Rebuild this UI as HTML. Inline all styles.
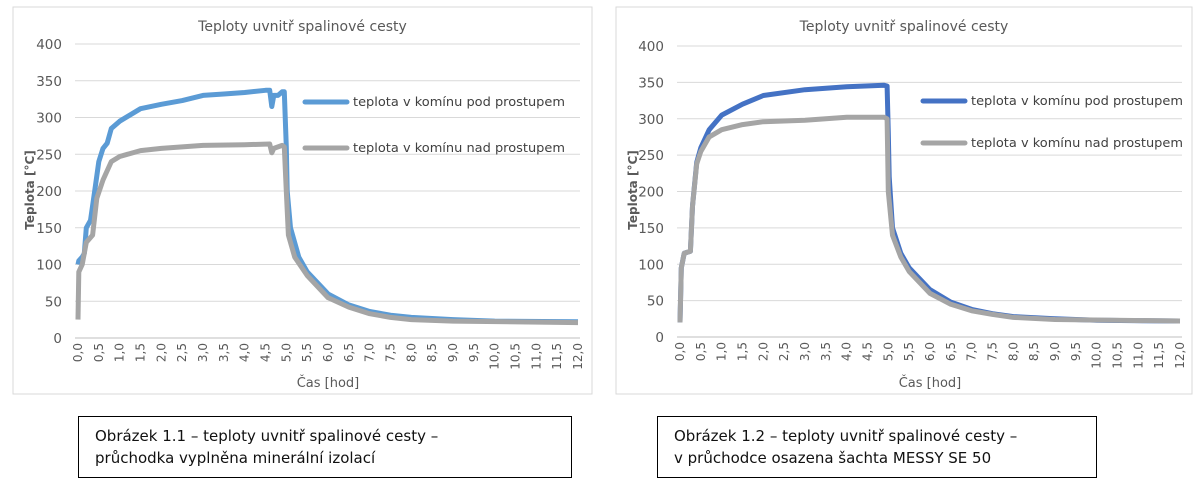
<!DOCTYPE html>
<html><head><meta charset="utf-8">
<style>
body{margin:0;background:#fff;width:1200px;height:485px;overflow:hidden;position:relative;font-family:"DejaVu Sans","Liberation Sans",sans-serif;}
.cap{position:absolute;border:1.5px solid #000;background:#fff;font-size:15px;line-height:22px;padding:8px 0 0 16px;box-sizing:border-box;color:#111;}
svg{position:absolute;left:0;top:0}
</style></head><body>
<svg id="svg" width="1200" height="485"></svg>
<div class="cap" style="left:78px;top:416px;width:494px;height:62px;">Obrázek 1.1 – teploty uvnitř spalinové cesty –<br>průchodka vyplněna minerální izolací</div>
<div class="cap" style="left:657px;top:416px;width:440px;height:62px;">Obrázek 1.2 – teploty uvnitř spalinové cesty –<br>v průchodce osazena šachta MESSY SE 50</div>
<script>
const yTicks=[0,50,100,150,200,250,300,350,400];
const xTicks=[0,0.5,1,1.5,2,2.5,3,3.5,4,4.5,5,5.5,6,6.5,7,7.5,8,8.5,9,9.5,10,10.5,11,11.5,12];
const legendLabels=["teplota v komínu pod prostupem","teplota v komínu nad prostupem"];
const c1BlueT=[0,0.02,0.1,0.15,0.2,0.3,0.4,0.5,0.6,0.7,0.8,1.0,1.5,2.0,2.5,3.0,3.5,4.0,4.5,4.6,4.65,4.7,4.8,4.9,4.95,5.0,5.02,5.1,5.3,5.5,6.0,6.5,7.0,7.5,8.0,9.0,10,12];
const c1BlueV=[100,105,110,115,150,160,200,240,258,265,285,295,312,318,323,330,332,334,337,337,315,330,330,335,335,260,200,150,110,90,60,45,36,31,28,25,23,22];
const c1GrayT=[0,0.02,0.1,0.2,0.35,0.45,0.6,0.8,1.0,1.5,2.0,3.0,4.0,4.6,4.65,4.7,4.9,4.95,5.0,5.05,5.2,5.5,6.0,6.5,7.0,7.5,8,9,12];
const c1GrayV=[25,90,100,130,140,190,215,240,247,255,258,262,263,264,252,258,262,260,200,140,110,85,55,42,33,28,25,23,21];
const c2BlueT=[0,0.03,0.1,0.25,0.3,0.4,0.5,0.7,1.0,1.5,2.0,3.0,4.0,4.9,4.97,5.0,5.02,5.1,5.3,5.5,6.0,6.5,7.0,7.5,8,9,10,12];
const c2BlueV=[20,95,115,118,180,240,260,285,305,320,332,340,344,346,345,280,220,150,115,95,65,48,38,32,28,25,23,22];
const c2GrayT=[0,0.03,0.1,0.25,0.3,0.4,0.5,0.7,1.0,1.5,2.0,3.0,4.0,4.9,4.97,5.0,5.1,5.3,5.5,6.0,6.5,7,7.5,8,9,12];
const c2GrayV=[20,95,115,118,180,238,255,275,285,292,296,298,302,302,300,200,140,110,90,60,45,36,31,27,24,22];

const NS="http://www.w3.org/2000/svg";
const svg=document.getElementById('svg');
function mk(tag,attrs,parent){const e=document.createElementNS(NS,tag);for(const k in attrs)e.setAttribute(k,attrs[k]);(parent||svg).appendChild(e);return e;}

function chart(o){
  const g=mk('g',{});
  
  
  const fr=mk('rect',{x:o.bx,y:7,width:o.bw,height:387,fill:'#fff',stroke:'#d9d9d9'},g);
  
  
  const X=v=>o.x0+(o.x1-o.x0)*v/12;
  const Y=v=>o.y0+(o.yTop-o.y0)*v/400;
  const t=mk('text',{x:(o.bx+o.bw/2),y:31,'text-anchor':'middle','font-size':14,fill:'#595959'},g);
  t.textContent='Teploty uvnitř spalinové cesty';
  
  
  yTicks.forEach(v=>{
    const l=mk('line',{x1:o.x0-3,x2:o.x1+2,y1:Y(v),y2:Y(v),stroke:v===0?'#bfbfbf':'#d9d9d9'},g);
    
    
    const tx=mk('text',{x:o.x0-16,y:Y(v)+5,'text-anchor':'end','font-size':13.5,fill:'#595959'},g);
    tx.textContent=v;
    
    
  });
  xTicks.forEach(v=>{
    const x=X(v);
    const tx=mk('text',{x:0,y:0,'text-anchor':'end','font-size':12,fill:'#595959',transform:`translate(${x+4},${o.y0+5}) rotate(-90)`},g);
    tx.textContent=v.toFixed(1).replace('.',',');
    
    
  });
  const xt=mk('text',{x:(o.x0+o.x1)/2,y:387,'text-anchor':'middle','font-size':13,fill:'#595959'},g);
  xt.textContent='Čas [hod]';
  
  
  const yt=mk('text',{x:0,y:0,'text-anchor':'middle','font-size':12,'font-weight':'bold',fill:'#595959',transform:`translate(${o.bx+21},190) rotate(-90)`},g);
  yt.textContent='Teplota [°C]';
  
  
  const series=[[o.bT,o.bV,o.blue],[o.gT,o.gV,'#a5a5a5']];
  series.forEach((s,i)=>{
    const d=s[0].map((tv,j)=>(j?'L':'M')+X(tv).toFixed(1)+','+Y(s[1][j]).toFixed(1)).join('');
    const p=mk('path',{d:d,fill:'none',stroke:s[2],'stroke-width':5,'stroke-linejoin':'round'},g);
    
    
  });
  [[o.blue,o.lg1],['#a5a5a5',o.lg2]].forEach((e,i)=>{
    const l=mk('line',{x1:o.lx,x2:o.lx+42,y1:e[1],y2:e[1],stroke:e[0],'stroke-width':5,'stroke-linecap':'round'},g);
    
    
    const tx=mk('text',{x:o.lx+48,y:e[1]+4,'font-size':12,fill:'#404040',textLength:212,lengthAdjust:'spacingAndGlyphs'},g);
    tx.textContent=legendLabels[i];
    
    
  });
}
chart({name:'chart-1',bx:13,bw:579,x0:78,x1:578,y0:338,yTop:44,lx:305,lg1:102,lg2:148,blue:'#5b9bd5',bT:c1BlueT,bV:c1BlueV,gT:c1GrayT,gV:c1GrayV});
chart({name:'chart-2',bx:616,bw:576,x0:680,x1:1180,y0:337,yTop:46,lx:923,lg1:101,lg2:143,blue:'#4472c4',bT:c2BlueT,bV:c2BlueV,gT:c2GrayT,gV:c2GrayV});
</script>
</body></html>
